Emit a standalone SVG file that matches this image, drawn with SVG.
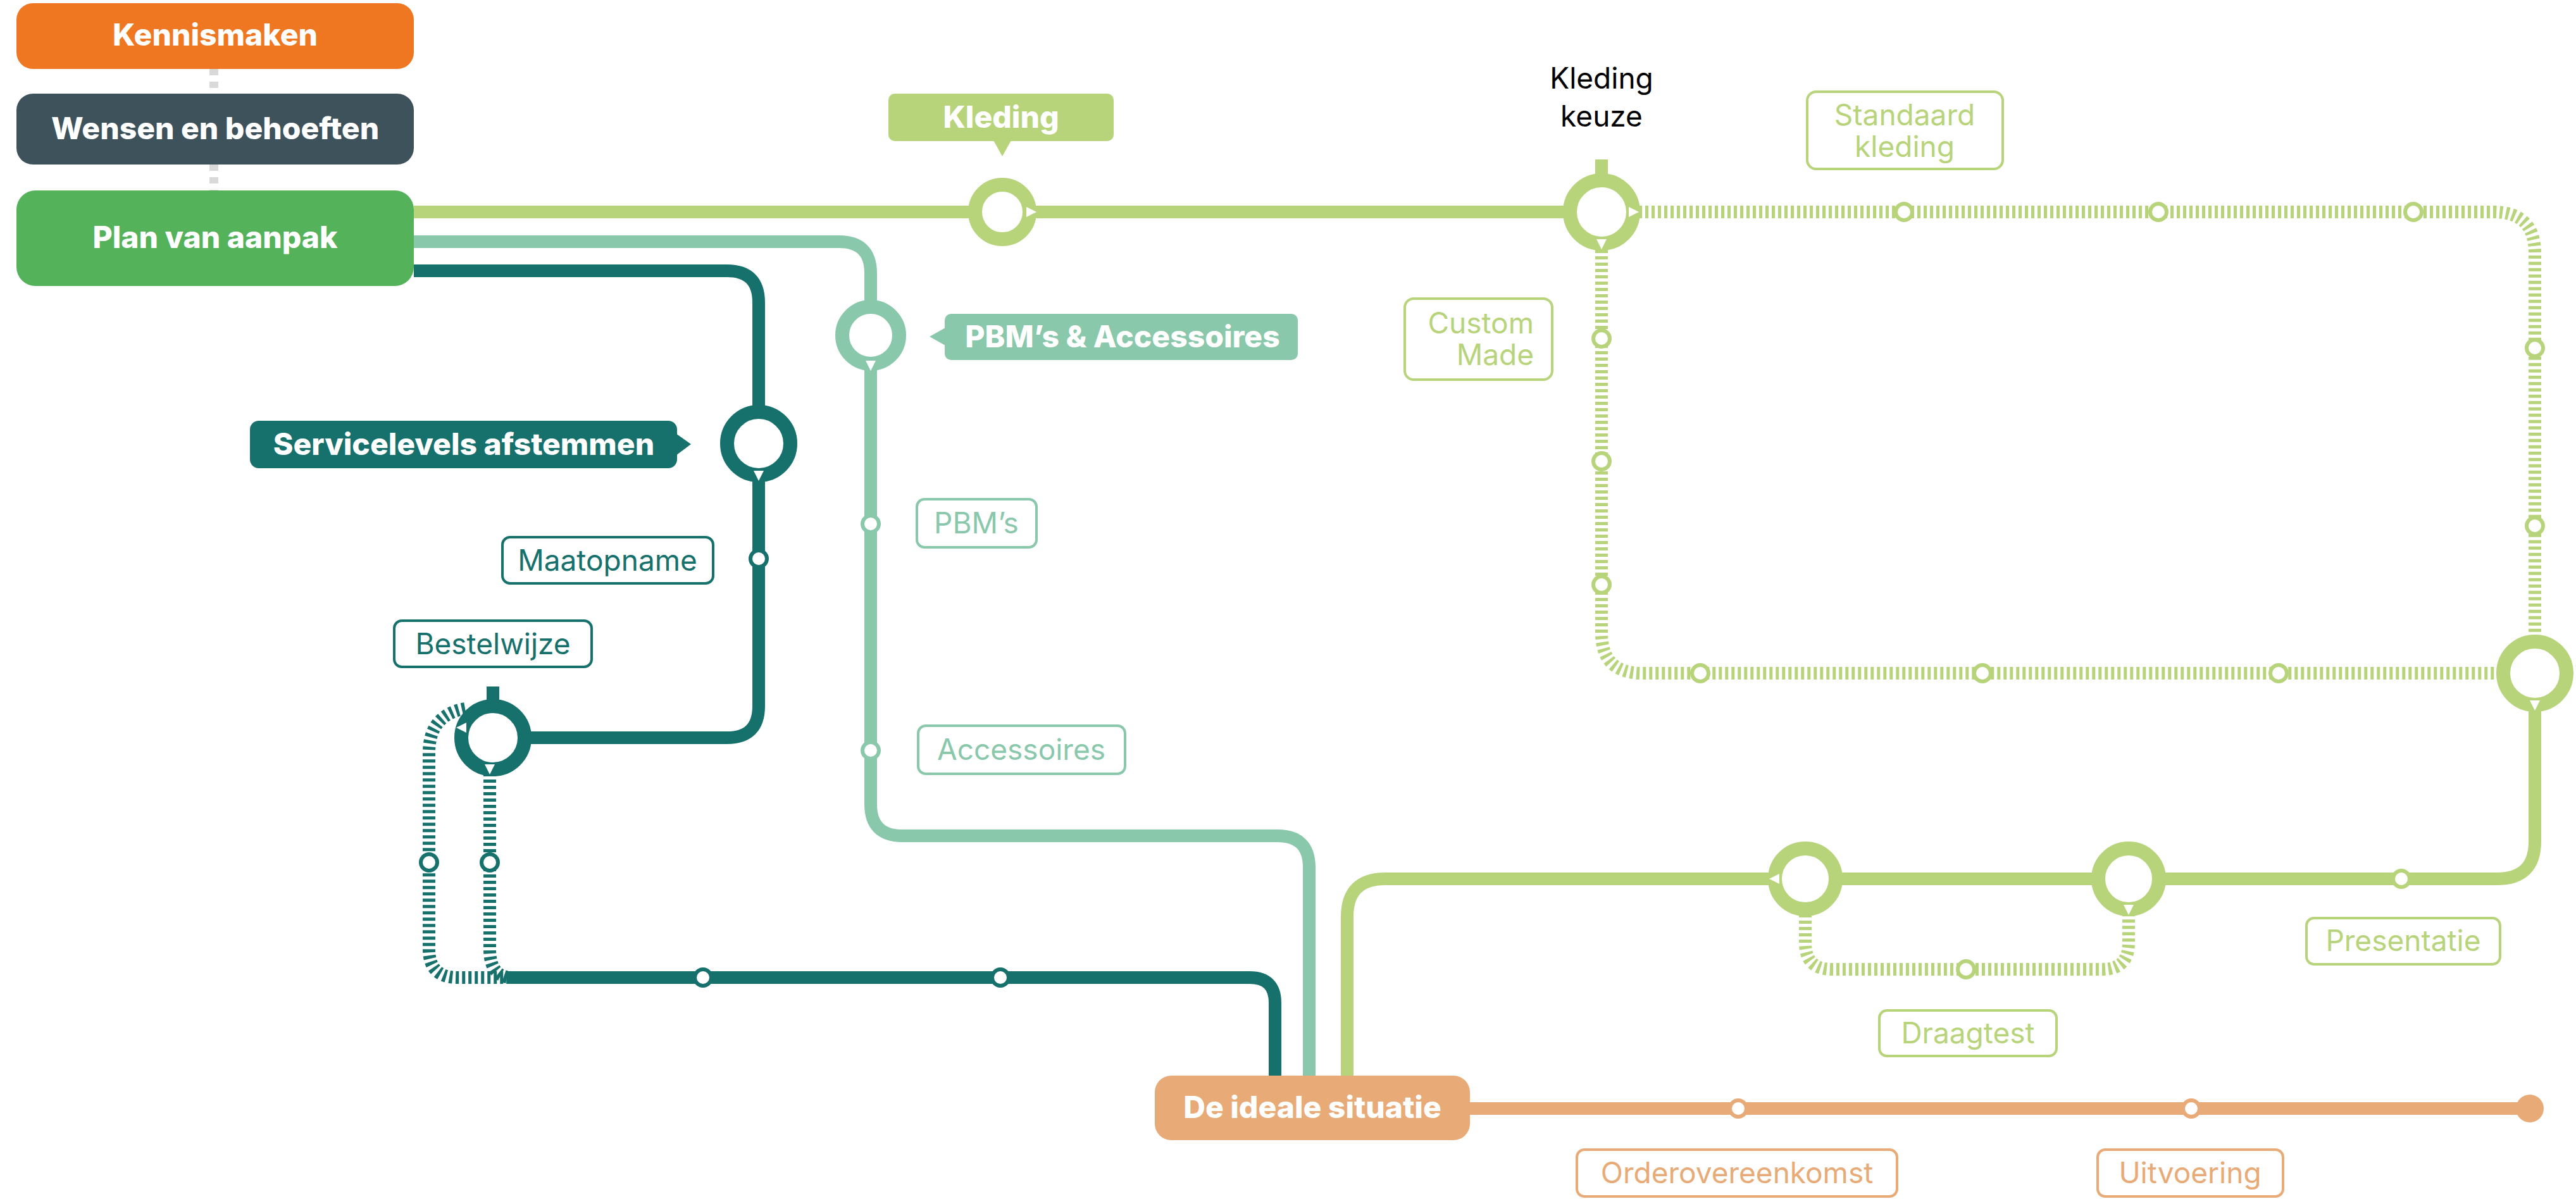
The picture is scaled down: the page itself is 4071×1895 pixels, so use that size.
<svg xmlns="http://www.w3.org/2000/svg" width="4071" height="1895" viewBox="0 0 4071 1895">
<defs>
<path id="td" d="M-8,-6 H8 L0,10Z" fill="#fff"/>
<path id="tr" d="M-6,-8 V8 L10,0Z" fill="#fff"/>
<path id="tl" d="M6,-8 V8 L-10,0Z" fill="#fff"/>
</defs>
<style>
text{font-family:Inter,"Liberation Sans",sans-serif}
.bt{font-weight:800;font-size:48px;fill:#fff;text-anchor:middle}
.lt{font-size:46px;text-anchor:middle}
.ln{fill:none;stroke-width:20;stroke-linejoin:round}
.dt{fill:none;stroke-width:20;stroke-dasharray:5 5}
.lg{stroke:#B7D47B}.pb{stroke:#8AC8AB}.tl{stroke:#16706C}.or{stroke:#E8AA76}
.big{fill:#fff;stroke-width:22}
.sm{fill:#fff;stroke-width:6}
.lb{fill:#fff;stroke-width:4}
</style>
<g id="connectors">
<path d="M338,109 V148 M338,260 V301" stroke="#d9d9d9" stroke-width="14" stroke-dasharray="10 10" fill="none"/>
<path class="ln lg" d="M654,335 H2531"/>
<path class="ln lg" d="M2531,252 V290"/>
<path class="dt lg" d="M2580,335 H3940 Q4006,335 4006,400 V1015"/>
<path class="dt lg" d="M2531,385 V1000 Q2531,1064 2595,1064 H3955"/>
<path class="ln lg" d="M4006,1110 V1330 Q4006,1389 3946,1389 H2189 Q2129,1389 2129,1449 V1700"/>
<path class="dt lg" d="M2853,1435 V1490 Q2853,1532 2895,1532 H3322 Q3364,1532 3364,1490 V1435"/>
<path class="ln pb" d="M654,382 H1326 Q1376,382 1376,432 V1271 Q1376,1321 1426,1321 H2019 Q2069,1321 2069,1371 V1700"/>
<path class="ln tl" d="M654,428 H1149 Q1199,428 1199,478 V1116 Q1199,1166 1149,1166 H779"/>
<path class="ln tl" d="M779,1085 V1120"/>
<path class="dt tl" d="M735,1120 Q678,1130 678,1190 V1500 Q678,1545 723,1545 H810"/>
<path class="dt tl" d="M774,1212 V1500 Q774,1545 810,1545"/>
<path class="ln tl" d="M805,1545 H1975 Q2015,1545 2015,1585 V1700"/>
<path class="ln or" d="M2323,1752 H3998"/>
<circle cx="3998" cy="1752" r="22" fill="#E8AA76"/>
</g>
<g id="kennismaken"><rect x="26" y="5" width="628" height="104" rx="26" fill="#F07722"/><text class="bt" x="340" y="72">Kennismaken</text></g>
<g id="wensen"><rect x="26" y="148" width="628" height="112" rx="26" fill="#3E525C"/><text class="bt" x="340" y="220">Wensen en behoeften</text></g>
<g id="plan"><rect x="26" y="301" width="628" height="151" rx="30" fill="#54B25A"/><text class="bt" x="340" y="392">Plan van aanpak</text></g>
<g id="ideale"><rect x="1825" y="1700" width="498" height="102" rx="26" fill="#E8AA76"/><text class="bt" x="2074" y="1767">De ideale situatie</text></g>
<g id="kleding"><rect x="1404" y="148" width="356" height="75" rx="10" fill="#B7D47B"/><path d="M1570,222 L1584,247 L1598,222Z" fill="#B7D47B"/><text class="bt" x="1582" y="202">Kleding</text>
<circle class="big lg" cx="1584" cy="335" r="43"/><use href="#tr" x="1628" y="335"/></g>
<g id="kledingkeuze"><text x="2531" y="140" font-size="46" text-anchor="middle" fill="#000">Kleding</text><text x="2531" y="200" font-size="46" text-anchor="middle" fill="#000">keuze</text>
<circle class="big lg" cx="2531" cy="335" r="50"/><use href="#tr" x="2580" y="335"/><use href="#td" x="2531" y="384"/></g>
<g id="standaard"><rect class="lb lg" x="2856" y="145" width="309" height="122" rx="14"/><text class="lt" x="3010" y="198" fill="#B7D47B">Standaard</text><text class="lt" x="3010" y="248" fill="#B7D47B">kleding</text></g>
<g id="custom"><rect class="lb lg" x="2220" y="472" width="233" height="128" rx="14"/><text x="2424" y="527" font-size="46" text-anchor="end" fill="#B7D47B">Custom</text><text x="2424" y="577" font-size="46" text-anchor="end" fill="#B7D47B">Made</text></g>
<g id="stations-lg">
<circle class="sm lg" cx="3009" cy="335" r="13"/><circle class="sm lg" cx="3411" cy="335" r="13"/><circle class="sm lg" cx="3814" cy="335" r="13"/>
<circle class="sm lg" cx="2531" cy="535" r="13"/><circle class="sm lg" cx="2531" cy="729" r="13"/><circle class="sm lg" cx="2531" cy="924" r="13"/>
<circle class="sm lg" cx="4006" cy="550" r="13"/><circle class="sm lg" cx="4006" cy="831" r="13"/>
<circle class="sm lg" cx="2687" cy="1064" r="13"/><circle class="sm lg" cx="3133" cy="1064" r="13"/><circle class="sm lg" cx="3601" cy="1064" r="13"/>
<circle class="big lg" cx="4006" cy="1064" r="50"/><use href="#td" x="4006" y="1113"/>
<circle class="big lg" cx="2853" cy="1389" r="48"/><use href="#tl" x="2806" y="1389"/>
<circle class="big lg" cx="3364" cy="1389" r="48"/><use href="#td" x="3364" y="1436"/>
<circle class="sm lg" cx="3795" cy="1389" r="13"/><circle class="sm lg" cx="3107" cy="1532" r="13"/>
</g>
<g id="presentatie"><rect class="lb lg" x="3645" y="1451" width="306" height="73" rx="12"/><text class="lt" x="3798" y="1503" fill="#B7D47B">Presentatie</text></g>
<g id="draagtest"><rect class="lb lg" x="2970" y="1597" width="280" height="72" rx="12"/><text class="lt" x="3110" y="1649" fill="#B7D47B">Draagtest</text></g>
<g id="pbm"><rect x="1493" y="496" width="558" height="73" rx="10" fill="#8AC8AB"/><path d="M1494,518 L1469,532 L1494,546Z" fill="#8AC8AB"/><text class="bt" x="1774" y="549">PBM’s &amp; Accessoires</text>
<circle class="big pb" cx="1376" cy="530" r="45"/><use href="#td" x="1376" y="576"/>
<circle class="sm pb" cx="1376" cy="828" r="13"/><circle class="sm pb" cx="1376" cy="1186" r="13"/></g>
<g id="pbms"><rect class="lb pb" x="1449" y="789" width="189" height="76" rx="12"/><text class="lt" x="1543" y="843" fill="#8AC8AB">PBM’s</text></g>
<g id="accessoires"><rect class="lb pb" x="1451" y="1147" width="327" height="76" rx="12"/><text class="lt" x="1614" y="1201" fill="#8AC8AB">Accessoires</text></g>
<g id="servicelevels"><rect x="395" y="665" width="675" height="75" rx="14" fill="#16706C"/><path d="M1068,685 L1092,702 L1068,720Z" fill="#16706C"/><text class="bt" x="733" y="719">Servicelevels afstemmen</text>
<circle class="big tl" cx="1199" cy="701" r="50"/><use href="#td" x="1199" y="750"/><circle class="sm tl" cx="1199" cy="883" r="13"/></g>
<g id="maatopname"><rect class="lb tl" x="794" y="849" width="333" height="73" rx="12"/><text class="lt" x="960" y="902" fill="#16706C">Maatopname</text></g>
<g id="bestelwijze"><rect class="lb tl" x="623" y="981" width="312" height="73" rx="12"/><text class="lt" x="779" y="1034" fill="#16706C">Bestelwijze</text>
<circle class="big tl" cx="779" cy="1166" r="50"/><use href="#tl" x="731" y="1150"/><use href="#td" x="774" y="1214"/>
<circle class="sm tl" cx="678" cy="1363" r="13"/><circle class="sm tl" cx="774" cy="1363" r="13"/>
<circle class="sm tl" cx="1111" cy="1545" r="13"/><circle class="sm tl" cx="1581" cy="1545" r="13"/></g>
<g id="order"><rect class="lb or" x="2492" y="1817" width="506" height="74" rx="12"/><text class="lt" x="2745" y="1870" fill="#E8AA76">Orderovereenkomst</text>
<circle class="sm or" cx="2747" cy="1752" r="13"/></g>
<g id="uitvoering"><rect class="lb or" x="3315" y="1817" width="293" height="74" rx="12"/><text class="lt" x="3461" y="1870" fill="#E8AA76">Uitvoering</text>
<circle class="sm or" cx="3463" cy="1752" r="13"/></g>
</svg>
